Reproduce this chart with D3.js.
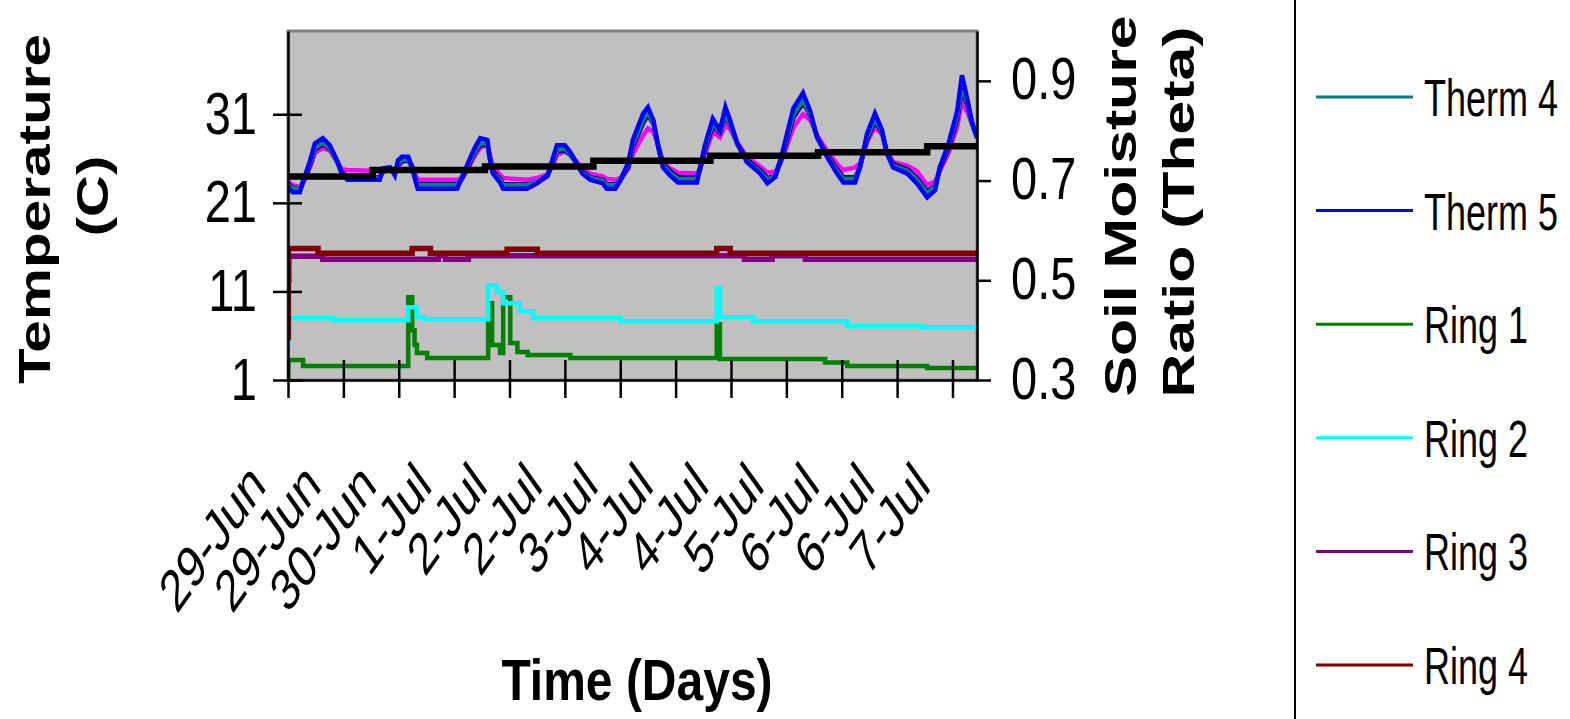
<!DOCTYPE html>
<meta charset="utf-8">

<!-- Load d3.js -->
<script src="https://d3js.org/d3.v7.min.js"></script>

<style>
  body { margin: 0; background: #fff; }
  text { font-family: "Liberation Sans", Arial, Helvetica, sans-serif; fill: #000; }
</style>

<!-- Create a div where the graph will take place -->
<div id="my_dataviz"></div>

<script>
  var width = 1570
  var height = 719

  // time of each thermistor reading, days from the first reading
  var thermDays = [0.00,0.06,0.15,0.21,0.28,0.34,0.44,0.53,0.62,0.68,0.75,
                   1.16,1.20,1.29,1.35,1.39,1.44,1.52,1.57,1.61,1.64,
                   2.14,2.20,2.28,2.36,2.43,2.52,2.55,2.59,2.68,2.72,
                   3.02,3.15,3.28,3.34,3.40,3.50,3.57,3.63,3.72,3.82,3.98,4.03,
                   4.14,4.20,4.30,4.36,4.49,4.55,4.62,4.68,4.74,4.83,4.93,
                   5.17,5.21,5.27,5.37,5.46,5.53,5.59,5.68,5.80,5.97,6.06,
                   6.16,6.25,6.39,6.51,6.60,6.69,6.82,6.94,7.02,
                   7.17,7.23,7.32,7.42,7.51,7.57,7.65,7.83,7.95,8.08,8.18,
                   8.24,8.35,8.46,8.52,8.59,8.65,8.71]

  // temperatures (C)
  var therm5 = [22.8,22.2,22.2,23.9,25.8,27.7,28.3,27.5,25.8,24.3,23.6,
                23.6,24.9,25.0,24.1,25.8,26.2,26.2,25.0,23.5,22.6,
                22.6,23.9,25.6,27.2,28.3,28.1,26.1,24.3,23.3,22.6,
                22.6,23.2,24.1,25.8,27.5,27.5,26.7,25.8,24.3,23.6,23.2,22.6,
                22.6,23.5,25.5,28.1,31.1,31.8,30.3,27.3,25.0,24.1,23.3,
                23.3,25.0,27.5,30.5,29.2,31.8,30.3,27.7,25.6,24.3,23.2,
                23.9,26.7,31.7,33.4,31.4,28.4,26.1,24.3,23.3,
                23.3,25.0,28.8,31.1,29.2,26.6,25.0,24.3,23.2,21.6,22.4,
                25.0,27.7,31.4,35.4,32.6,30.0,28.3]

  var therm4 = [23.0,22.6,22.6,23.9,25.5,27.2,27.8,27.2,25.6,24.3,23.8,
                23.8,24.6,24.8,24.3,25.4,25.9,25.9,24.9,23.7,23.0,
                23.0,23.9,25.3,26.8,27.7,27.7,26.0,24.4,23.6,23.0,
                23.0,23.4,24.1,25.5,27.0,27.1,26.5,25.6,24.4,23.8,23.5,23.0,
                23.0,23.6,25.3,27.6,30.4,31.2,30.0,27.3,25.2,24.4,23.7,
                23.7,25.0,27.2,30.0,29.0,31.1,29.9,27.6,25.7,24.5,23.6,
                24.0,26.5,31.0,32.6,31.0,28.3,26.2,24.6,23.7,
                23.7,25.1,28.4,30.5,29.0,26.6,25.2,24.6,23.6,22.1,22.8,
                25.0,27.4,30.8,34.2,32.2,29.9,28.4]

  var therm3 = [23.2,22.7,22.5,23.7,25.3,27.0,27.6,27.1,25.7,24.5,23.9,
                23.9,24.5,24.7,24.4,25.3,25.7,25.8,25.0,23.8,23.1,
                23.1,23.7,25.1,26.6,27.5,27.6,26.2,24.6,23.7,23.1,
                23.1,23.3,24.0,25.3,26.8,26.9,26.4,25.7,24.6,23.9,23.6,23.1,
                23.1,23.5,25.0,27.3,30.0,30.9,29.9,27.5,25.4,24.6,23.9,
                23.9,24.8,26.9,29.7,28.9,30.8,29.8,27.7,25.9,24.7,23.8,
                24.0,26.2,30.6,32.3,30.9,28.4,26.4,24.8,23.9,
                23.9,25.0,28.1,30.2,28.9,26.7,25.4,24.8,23.8,22.3,22.9,
                24.8,27.1,30.4,33.8,32.0,29.9,28.5]

  var therm2 = [23.4,23.0,22.8,23.6,25.0,26.6,27.2,26.9,25.6,24.8,24.7,
                24.6,24.6,24.8,24.6,25.0,25.6,25.8,25.2,24.2,23.6,
                23.6,23.8,24.9,26.3,27.2,27.6,26.5,25.0,24.2,23.8,
                23.6,23.8,24.2,25.1,26.4,26.8,26.5,25.8,24.9,24.3,24.0,23.7,
                23.6,23.8,24.8,26.5,28.6,29.4,29.0,27.5,25.6,24.9,24.4,
                24.3,24.9,26.4,29.0,28.4,29.8,29.3,27.8,26.2,25.1,24.4,
                24.5,26.0,29.5,31.0,30.4,28.6,26.8,25.4,24.7,
                25.0,25.4,27.8,29.6,28.7,26.9,25.6,25.2,24.6,23.0,23.4,
                24.6,26.6,29.6,32.4,31.2,29.8,28.8]

  // soil moisture (theta), [day, value] held until the next reading
  var ring1 = [[0,0.30],[0.005,0.34],[0.19,0.328],[1.52,0.466],[1.57,0.40],[1.60,0.37],[1.63,0.354],
               [1.76,0.344],[2.53,0.454],[2.58,0.37],[2.68,0.354],[2.72,0.466],[2.81,0.374],[2.90,0.356],
               [3.03,0.35],[3.57,0.344],[5.42,0.412],[5.46,0.342],[6.79,0.335],[7.07,0.328],[8.08,0.324],[8.71,0.324]]
  var ring2 = [[0,0.37],[0.005,0.424],[0.56,0.42],[1.52,0.446],[1.63,0.426],[1.73,0.422],[2.53,0.49],
               [2.64,0.476],[2.72,0.454],[2.93,0.438],[3.10,0.424],[4.20,0.418],[5.42,0.484],[5.46,0.426],
               [5.88,0.418],[7.07,0.408],[8.02,0.406],[8.71,0.406]]
  var ring3 = [[0,0.50],[0.01,0.548],[0.44,0.542],[1.90,0.549],[1.99,0.542],[2.28,0.549],[5.77,0.542],
               [6.12,0.549],[6.54,0.542],[8.71,0.542]]
  var ring4 = [[0,0.386],[0.005,0.564],[0.38,0.554],[1.57,0.564],[1.80,0.554],[2.77,0.562],[3.15,0.554],
               [5.42,0.564],[5.59,0.554],[8.71,0.556]]
  var moisture = [[0,0.708],[1.07,0.721],[2.49,0.728],[3.86,0.740],[5.34,0.750],[6.70,0.757],[8.08,0.769],[8.71,0.769]]

  var dayLabels = ["29-Jun","29-Jun","30-Jun","1-Jul","2-Jul","2-Jul","3-Jul","4-Jul","4-Jul","5-Jul","6-Jul","6-Jul","7-Jul"]
  var tempTicks = [1, 11, 21, 31]
  var thetaTicks = [0.3, 0.5, 0.7, 0.9]

  var legendNames = ["Therm 4", "Therm 5", "Ring 1", "Ring 2", "Ring 3", "Ring 4"]
  var legendColors = ["#008080", "#0000FF", "#008000", "#00FFFF", "#800080", "#800000"]

  var svg = d3.select("#my_dataviz")
    .append("svg")
      .attr("width", width)
      .attr("height", height)

  var x = d3.scaleLinear().domain([0, 8.71]).range([288, 977])
  var yTemp = d3.scaleLinear().domain([1, 40.4]).range([380, 31])
  var yTheta = d3.scaleLinear().domain([0.3, 1.0]).range([380, 31])

  // grey plot area
  svg.append("rect")
    .attr("x", 288).attr("y", 31)
    .attr("width", 689).attr("height", 349)
    .style("fill", "#C0C0C0")
    .style("stroke", "#808080")
    .style("stroke-width", 3)

  svg.append("clipPath").attr("id", "clip")
    .append("rect")
      .attr("x", 288).attr("y", 31)
      .attr("width", 689).attr("height", 349)

  var plot = svg.append("g").attr("clip-path", "url(#clip)")

  var tempLine = d3.line()
    .x(function(d, i){ return x(thermDays[i]) })
    .y(function(d){ return yTemp(d) })

  var therms = [[therm2, "#FF00FF"], [therm3, "#000080"], [therm4, "#008080"], [therm5, "#0000FF"]]
  therms.forEach(function(t){
    plot.append("path")
      .datum(t[0])
      .attr("d", tempLine)
      .style("fill", "none")
      .style("stroke", t[1])
      .style("stroke-width", 4.5)
  })

  var stepLine = d3.line()
    .curve(d3.curveStepAfter)
    .x(function(d){ return x(d[0]) })
    .y(function(d){ return yTheta(d[1]) })

  var rings = [[ring1, "#008000", 4.5], [ring2, "#00FFFF", 4.5], [ring3, "#800080", 5.5], [ring4, "#800000", 5.5], [moisture, "#000000", 6.5]]
  rings.forEach(function(r){
    plot.append("path")
      .datum(r[0])
      .attr("d", stepLine)
      .style("fill", "none")
      .style("stroke", r[1])
      .style("stroke-width", r[2])
  })

  // axes
  var font = "'Liberation Sans', Arial, sans-serif"

  var left = svg.append("g")
    .attr("transform", "translate(288,0)")
    .call(d3.axisLeft(yTemp).tickValues(tempTicks).tickSize(15).tickSizeOuter(0))
  left.select(".domain").style("stroke-width", 2.5)
  left.selectAll(".tick line").attr("x1", 14).attr("x2", -15).style("stroke-width", 2.5)
  left.selectAll(".tick text")
    .attr("x", null).attr("dy", null)
    .attr("font-size", 47).attr("font-family", font)
    .attr("text-anchor", "end")
    .attr("transform", "translate(-31,19) scale(1,1.28)")

  var right = svg.append("g")
    .attr("transform", "translate(977,0)")
    .call(d3.axisRight(yTheta).tickValues(thetaTicks).tickSize(14).tickSizeOuter(0).tickFormat(d3.format(".1f")))
  right.select(".domain").style("stroke-width", 2.5)
  right.selectAll(".tick line").style("stroke-width", 2.5)
  right.selectAll(".tick text")
    .attr("x", null).attr("dy", null)
    .attr("font-size", 47).attr("font-family", font)
    .attr("text-anchor", "start")
    .attr("transform", "translate(34,18) scale(1,1.28)")

  var tickDays = d3.range(dayLabels.length).map(function(i){ return i * 0.7 })
  var bottom = svg.append("g")
    .attr("transform", "translate(0,380)")
    .call(d3.axisBottom(x).tickValues(tickDays).tickSize(18).tickSizeOuter(0)
      .tickFormat(function(d, i){ return dayLabels[i] }))
  bottom.select(".domain").style("stroke-width", 2.5)
  bottom.selectAll(".tick line").attr("y1", -20).style("stroke-width", 2.5)
  bottom.selectAll(".tick text")
    .attr("y", null).attr("dy", null)
    .attr("font-size", 42).attr("font-family", font)
    .attr("text-anchor", "end")
    .attr("transform", "translate(-21,108) scale(1,1.4) rotate(-45)")

  // axis titles
  function title(txt, tr, size){
    svg.append("text")
      .attr("transform", tr)
      .attr("text-anchor", "middle")
      .style("font-size", size + "px")
      .style("font-weight", "bold")
      .text(txt)
  }
  title("Temperature", "translate(50,209) scale(1,1.33) rotate(-90)", 44)
  title("(C)", "translate(108,196) scale(1,1.33) rotate(-90)", 44)
  title("Soil Moisture", "translate(1136,206) scale(1,1.38) rotate(-90)", 44)
  title("Ratio (Theta)", "translate(1194,212) scale(1,1.38) rotate(-90)", 44)
  title("Time (Days)", "translate(637,700) scale(1,1.18)", 48)

  // legend (box is cut by the picture edge, only its left side shows)
  svg.append("line")
    .attr("x1", 1295).attr("x2", 1295).attr("y1", 0).attr("y2", height)
    .style("stroke", "#000").style("stroke-width", 2)

  var leg = svg.append("g").selectAll("g")
    .data(legendNames)
    .enter()
    .append("g")
      .attr("transform", function(d, i){ return "translate(0," + (97 + i * 113.6) + ")" })
  leg.append("line")
    .attr("x1", 1316).attr("x2", 1413)
    .style("stroke", function(d, i){ return legendColors[i] })
    .style("stroke-width", 3)
  leg.append("text")
    .attr("transform", "translate(1424,19) scale(1,1.45)")
    .style("font-size", "36px")
    .text(function(d){ return d })
</script>
